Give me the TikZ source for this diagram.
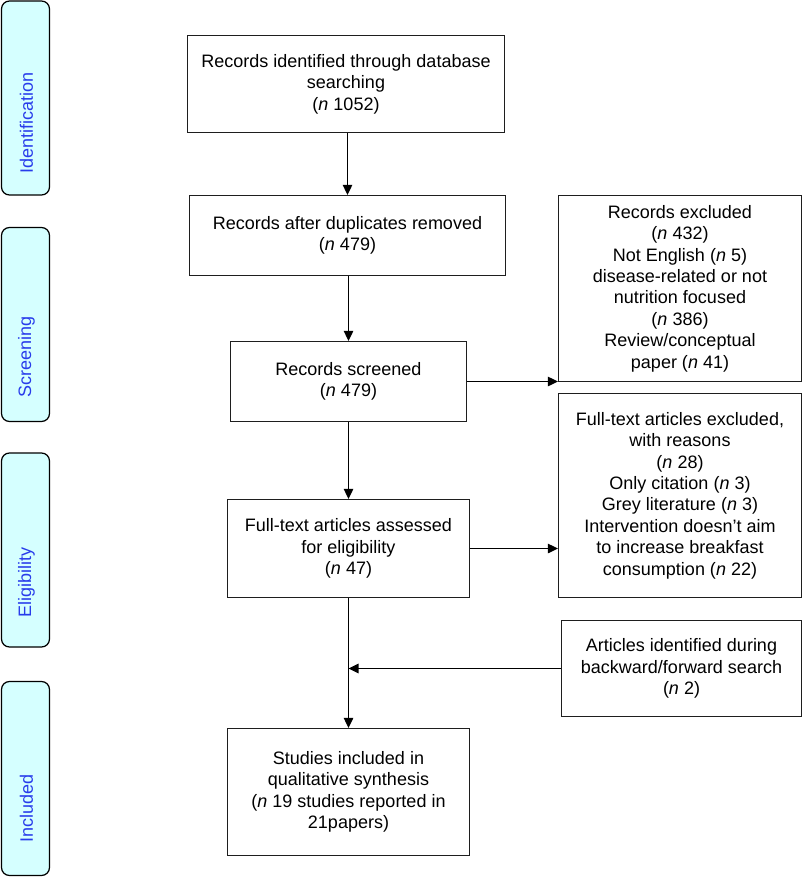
\documentclass[tikz,border=0pt]{standalone}
\usepackage{fontspec}
\setmainfont{Liberation Sans}
\usetikzlibrary{arrows.meta}
\definecolor{sidefill}{RGB}{213,255,255}
\definecolor{sidetext}{RGB}{40,60,235}
\definecolor{boxline}{RGB}{30,30,30}
\begin{document}
\begin{tikzpicture}[x=1pt,y=-1pt,
  flowbox/.style={draw=boxline,line width=1.25pt,rectangle,inner sep=0pt,align=center,
    font=\fontsize{18}{21.4}\selectfont},
  sidebox/.style={draw=black,line width=1.25pt,fill=sidefill,rounded corners=8pt,
    minimum width=48pt,minimum height=194pt,inner sep=0pt},
  sidelabel/.style={rotate=90,text=sidetext,font=\fontsize{18}{21.4}\selectfont,inner sep=0pt},
  flowarrow/.style={draw=black,line width=1.25pt,-{Triangle[length=10pt,width=9.5pt]}}]
\useasboundingbox (0,0) rectangle (803,877);

% side phase boxes
\node[sidebox] (sid) at (25.5,98) {};
\node[sidelabel] (sidt) at (26.5,123) {Identification};
\node[sidebox] (sscr) at (25.5,324.5) {};
\node[sidelabel] (sscrt) at (26.5,357) {Screening};
\node[sidebox] (selig) at (25.5,550) {};
\node[sidelabel] (seligt) at (26.5,582) {Eligibility};
\node[sidebox] (sinc) at (25.5,778.5) {};
\node[sidelabel] (sinct) at (26.5,808) {Included};

% main column
\node[flowbox,minimum width=317pt,minimum height=97pt] (b1) at (346,84)
  {Records identified through database\\searching\\(\textit{n} 1052)};
\node[flowbox,minimum width=316pt,minimum height=80pt] (b2) at (347.5,235.5)
  {Records after duplicates removed\\(\textit{n} 479)};
\node[flowbox,minimum width=236pt,minimum height=80pt] (b3) at (348.5,381.5)
  {Records screened\\(\textit{n} 479)};
\node[flowbox,minimum width=242pt,minimum height=98pt] (b4) at (348.5,548.5)
  {Full-text articles assessed\\for eligibility\\(\textit{n} 47)};
\node[flowbox,minimum width=242pt,minimum height=127pt] (b5) at (348.5,792)
  {Studies included in\\qualitative synthesis\\(\textit{n} 19 studies reported in\\21papers)};

% right column
\node[flowbox,minimum width=243pt,minimum height=186pt] (bA) at (680,288.5)
  {Records excluded\\(\textit{n} 432)\\Not English (\textit{n} 5)\\disease-related or not\\nutrition focused\\(\textit{n} 386)\\Review/conceptual\\paper (\textit{n} 41)};
\node[flowbox,minimum width=243pt,minimum height=204pt] (bB) at (680,495.5)
  {Full-text articles excluded,\\with reasons\\(\textit{n} 28)\\Only citation (\textit{n} 3)\\Grey literature (\textit{n} 3)\\Intervention doesn’t aim\\to increase breakfast\\consumption (\textit{n} 22)};
\node[flowbox,minimum width=240pt,minimum height=96pt] (bC) at (681.5,668.5)
  {Articles identified during\\backward/forward search\\(\textit{n} 2)};

% connectors
\draw[flowarrow] (b2.north |- b1.south) -- (b2.north);
\draw[flowarrow] (b3.north |- b2.south) -- (b3.north);
\draw[flowarrow] (b3.south) -- (b3.south |- b4.north);
\draw[flowarrow] (b4.south) -- (b4.south |- b5.north);
\draw[flowarrow] (b3.east) -- (b3.east -| bA.west);
\draw[flowarrow] (b4.east) -- (b4.east -| bB.west);
\draw[flowarrow] (bC.west) -- (bC.west -| b4.south);
\end{tikzpicture}
\end{document}
